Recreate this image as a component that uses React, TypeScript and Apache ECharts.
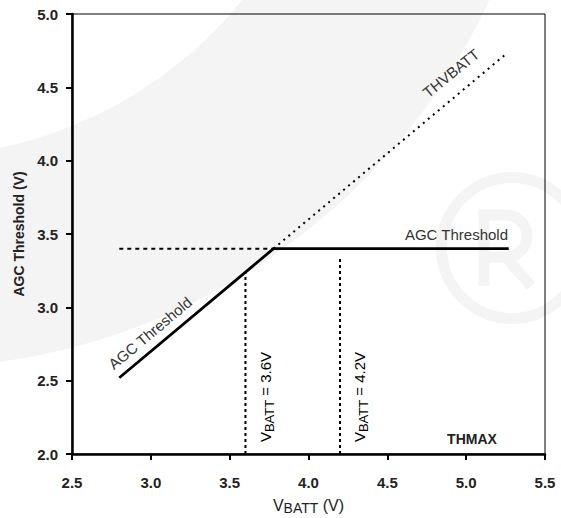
import React, { useEffect, useRef } from "react";
import * as echarts from "echarts";

// Data
const agcX = [2.8, 3.778, 5.27];
const agcY = [2.52, 3.4, 3.4];
const thvbattX = [3.778, 5.25];
const thvbattY = [3.4, 4.725];
const levelX = [2.8, 3.778];
const levelY = [3.4, 3.4];
const markerX = [3.6, 4.2];
const markerBottom = [2.0, 2.0];
const markerTop = [3.24, 3.35];
const xTicks = [2.5, 3.0, 3.5, 4.0, 4.5, 5.0, 5.5];
const yTicks = [2.0, 2.5, 3.0, 3.5, 4.0, 4.5, 5.0];

const FONT = '"Liberation Sans", Arial, sans-serif';
const WM = "#f4f4f4";

const zip = (xs: number[], ys: number[]) => xs.map((x, i) => [x, ys[i]]);

export default function App() {
  const ref = useRef<HTMLDivElement>(null);
  useEffect(() => {
    if (!ref.current) return;
    const chart = echarts.init(ref.current, null, { renderer: "svg" });
    const dot = (name: string, data: number[][], type: any, width = 2) => ({
      name,
      type: "line",
      data,
      showSymbol: false,
      z: 3,
      lineStyle: { color: "#000", width, type },
    });
    const sub = (color = "#333", big = 15, small = 13, pad = 5) => ({
      n: { fontSize: big, fontFamily: FONT, color, verticalAlign: "top" },
      s: { fontSize: small, fontFamily: FONT, color, verticalAlign: "top", padding: [pad, 0, 0, 0] },
    });
    chart.setOption({
      animation: false,
      backgroundColor: "#fff",
      grid: {
        left: 72, right: 16, top: 14, bottom: 64,
        outerBoundsMode: "none",
        containLabel: false,
        show: true, borderColor: "#000", borderWidth: 1, z: 1,
      },
      xAxis: {
        type: "value",
        min: xTicks[0],
        max: xTicks[xTicks.length - 1],
        interval: 0.5,
        splitLine: { show: false },
        axisLine: { lineStyle: { color: "#000", width: 2.5 } },
        axisTick: { show: true, length: 6, lineStyle: { color: "#000", width: 2 } },
        axisLabel: {
          margin: 21,
          fontSize: 15,
          fontWeight: "bold",
          fontFamily: FONT,
          color: "#222",
          formatter: (v: number) => v.toFixed(1),
        },
        name: "{n|V}{s|BATT}{n| (V)}",
        nameLocation: "middle",
        nameGap: 43,
        nameTextStyle: { rich: sub("#222", 16, 14, 4) },
      },
      yAxis: {
        type: "value",
        min: yTicks[0],
        max: yTicks[yTicks.length - 1],
        interval: 0.5,
        splitLine: { show: false },
        axisLine: { lineStyle: { color: "#000", width: 2.5 } },
        axisTick: { show: true, length: 6, lineStyle: { color: "#000", width: 2 } },
        axisLabel: {
          margin: 14,
          fontSize: 15,
          fontWeight: "bold",
          fontFamily: FONT,
          color: "#222",
          formatter: (v: number) => v.toFixed(1),
        },
        name: "AGC Threshold (V)",
        nameLocation: "middle",
        nameGap: 40,
        nameTextStyle: { fontSize: 14, fontWeight: "bold", fontFamily: FONT, color: "#222" },
      },
      graphic: {
        elements: [
          { type: "ring", silent: true, z: -10, shape: { cx: -88, cy: -269, r: 637, r0: 426 }, style: { fill: WM } },
          { type: "ring", silent: true, z: -10, shape: { cx: 512, cy: 248, r: 76, r0: 65 }, style: { fill: WM } },
          { type: "polyline", silent: true, z: -10, shape: { points: [[484, 286], [484, 215], [506, 215]] }, style: { stroke: WM, lineWidth: 11, fill: null } },
          { type: "arc", silent: true, z: -10, shape: { cx: 506, cy: 236, r: 21, startAngle: -Math.PI / 2, endAngle: Math.PI / 2, clockwise: true }, style: { stroke: WM, lineWidth: 11, fill: null } },
          { type: "polyline", silent: true, z: -10, shape: { points: [[484, 257], [506, 257], [531, 286]] }, style: { stroke: WM, lineWidth: 11, fill: null } },
          { type: "text", z: 10, x: 150, y: 333, rotation: (40 * Math.PI) / 180, style: { text: "AGC Threshold", fontSize: 15, fontFamily: FONT, fill: "#333", align: "center", verticalAlign: "middle" } },
          { type: "text", z: 10, x: 451, y: 73, rotation: (39 * Math.PI) / 180, style: { text: "THVBATT", fontSize: 15, fontFamily: FONT, fill: "#333", align: "center", verticalAlign: "middle" } },
          { type: "text", z: 10, x: 508, y: 234, style: { text: "AGC Threshold", fontSize: 15, fontFamily: FONT, fill: "#333", align: "right", verticalAlign: "middle" } },
          { type: "text", z: 10, x: 472, y: 439, style: { text: "THMAX", fontSize: 14, fontWeight: "bold", fontFamily: FONT, fill: "#222", align: "center", verticalAlign: "middle" } },
          { type: "text", z: 10, x: 267, y: 397, rotation: Math.PI / 2, style: { text: "{n|V}{s|BATT}{n| = 3.6V}", rich: sub(), align: "center", verticalAlign: "middle" } },
          { type: "text", z: 10, x: 361, y: 397, rotation: Math.PI / 2, style: { text: "{n|V}{s|BATT}{n| = 4.2V}", rich: sub(), align: "center", verticalAlign: "middle" } },
        ],
      },
      series: [
        dot("level", zip(levelX, levelY), [4, 4]),
        dot("thvbatt", zip(thvbattX, thvbattY), [2, 4.5]),
        dot("m1", [[markerX[0], markerBottom[0]], [markerX[0], markerTop[0]]], [3, 3]),
        dot("m2", [[markerX[1], markerBottom[1]], [markerX[1], markerTop[1]]], [3, 3]),
        {
          name: "agc",
          type: "line",
          data: zip(agcX, agcY),
          showSymbol: false,
          z: 4,
          lineStyle: { color: "#000", width: 2.8, type: "solid" },
        },
      ],
    });
    return () => chart.dispose();
  }, []);
  return <div ref={ref} style={{ width: 561, height: 518, position: "absolute", left: 0, top: 0 }} />;
}
